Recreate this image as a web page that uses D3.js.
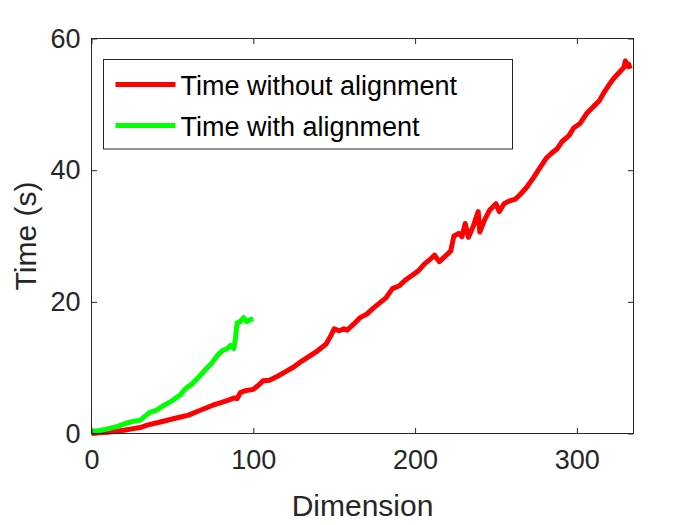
<!DOCTYPE html>
<html>
<head>
<meta charset="utf-8">
<script src="https://cdn.jsdelivr.net/npm/d3@7"></script>
<style>
  body { margin: 0; background: #fff; }
  text { font-family: "Liberation Sans", Arial, sans-serif; }
</style>
</head>
<body>
<div id="chart"></div>
<script>
// Run time against dimension

const redDims = [0, 5, 10, 15, 20, 25, 30, 35, 40, 45, 50, 55, 60, 65, 70, 75, 80, 85, 88, 90,
  92, 95, 100, 103, 106, 110, 115, 120, 125, 130, 135, 140, 145, 148, 150, 153, 156, 158, 162, 166,
  170, 174, 178, 182, 186, 190, 194, 198, 202, 206, 210, 212, 215, 218, 222, 224, 227, 229, 231, 233,
  236, 239, 240, 243, 246, 250, 252, 255, 258, 262, 265, 269, 273, 277, 281, 284, 288, 291, 295, 298,
  302, 306, 310, 314, 317, 320, 323, 326, 329, 330, 331, 332, 333];
const redTimes = [0, 0.1, 0.2, 0.35, 0.5, 0.7, 0.9, 1.3, 1.6, 1.9, 2.2, 2.5, 2.8, 3.3, 3.8, 4.3, 4.7, 5.1, 5.4, 5.3,
  6.2, 6.5, 6.7, 7.3, 8.0, 8.1, 8.7, 9.4, 10.1, 11.0, 11.8, 12.6, 13.6, 14.9, 15.9, 15.6, 15.9, 15.7, 16.6, 17.6,
  18.1, 19.0, 19.8, 20.6, 22.0, 22.4, 23.3, 24.0, 24.7, 25.8, 26.6, 27.1, 26.1, 26.8, 27.7, 30.0, 30.4, 29.9, 31.9, 29.8,
  31.5, 33.7, 30.6, 32.5, 33.9, 34.9, 33.7, 34.9, 35.3, 35.6, 36.3, 37.4, 38.8, 40.3, 41.8, 42.5, 43.3, 44.4, 45.2, 46.4,
  47.1, 48.6, 49.6, 50.6, 51.9, 53.0, 54.0, 54.8, 55.6, 56.6, 55.8, 56.1, 55.4];

const greenDims = [0, 5, 10, 15, 18, 22, 25, 30, 33, 36, 40, 45, 50, 55, 58, 62, 66, 70, 74, 78,
  81, 84, 86, 88, 89, 90, 92, 94, 96, 98, 100];
const greenTimes = [0.3, 0.45, 0.7, 1.0, 1.25, 1.6, 1.8, 2.0, 2.6, 3.2, 3.5, 4.3, 5.0, 5.9, 6.8, 7.5, 8.5, 9.6, 10.6, 11.9,
  12.6, 12.9, 13.4, 12.9, 14.5, 16.8, 17.0, 17.6, 17.0, 17.3, 17.4];

const xTicks = [0, 100, 200, 300];
const yTicks = [0, 20, 40, 60];
const seriesNames = ["Time without alignment", "Time with alignment"];
const seriesColors = ["#ff0000", "#00ff00"];

const width = 700;
const height = 525;
const margin = { top: 38.5, right: 66.5, bottom: 91.5, left: 91.5 };
const plotW = width - margin.left - margin.right;
const plotH = height - margin.top - margin.bottom;
const axisColor = "#262626";

const svg = d3.select("#chart")
  .append("svg")
  .attr("width", width)
  .attr("height", height);

svg.append("rect").attr("width", width).attr("height", height).attr("fill", "#fff");

const g = svg.append("g")
  .attr("transform", `translate(${margin.left},${margin.top})`);

const x = d3.scaleLinear().domain([0, 335]).range([0, plotW]);
const y = d3.scaleLinear().domain([0, 60]).range([plotH, 0]);

// lines
const red = redDims.map((d, i) => [d, redTimes[i]]);
const green = greenDims.map((d, i) => [d, greenTimes[i]]);
const line = d3.line().x(d => x(d[0])).y(d => y(d[1]));

g.append("path").datum(red)
  .attr("d", line)
  .attr("fill", "none")
  .attr("stroke", seriesColors[0])
  .attr("stroke-width", 5)
  .attr("stroke-linejoin", "round");

g.append("path").datum(green)
  .attr("d", line)
  .attr("fill", "none")
  .attr("stroke", seriesColors[1])
  .attr("stroke-width", 5)
  .attr("stroke-linejoin", "round");

// axes (ticks inside, box on)
const tickLen = 5.5;
function styleAxis(sel) {
  sel.selectAll("path, line").attr("stroke", axisColor).attr("stroke-width", 1);
  sel.selectAll("text")
    .attr("fill", axisColor)
    .style("font-size", "27px");
}

g.append("g")
  .attr("transform", `translate(0,${plotH})`)
  .call(d3.axisBottom(x).tickValues(xTicks).tickSizeInner(-tickLen).tickSizeOuter(0).tickPadding(16))
  .call(styleAxis)
  .call(a => a.selectAll("text").attr("dy", "0.71em"));

g.append("g")
  .call(d3.axisTop(x).tickValues(xTicks).tickSizeInner(-tickLen).tickSizeOuter(0).tickFormat(""))
  .call(styleAxis);

g.append("g")
  .call(d3.axisLeft(y).tickValues(yTicks).tickSizeInner(-tickLen).tickSizeOuter(0).tickPadding(11))
  .call(styleAxis);

g.append("g")
  .attr("transform", `translate(${plotW},0)`)
  .call(d3.axisRight(y).tickValues(yTicks).tickSizeInner(-tickLen).tickSizeOuter(0).tickFormat(""))
  .call(styleAxis);

g.selectAll(".domain").remove();
g.append("rect")
  .attr("width", plotW)
  .attr("height", plotH)
  .attr("fill", "none")
  .attr("stroke", axisColor)
  .attr("stroke-width", 1);

// axis titles
svg.append("text")
  .attr("x", margin.left + plotW / 2)
  .attr("y", 516)
  .attr("text-anchor", "middle")
  .attr("fill", axisColor)
  .style("font-size", "30px")
  .text("Dimension");

svg.append("text")
  .attr("transform", `translate(36,${margin.top + plotH / 2}) rotate(-90)`)
  .attr("text-anchor", "middle")
  .attr("fill", axisColor)
  .style("font-size", "30px")
  .text("Time (s)");

// legend
const legend = svg.append("g").attr("transform", "translate(103.5,59.5)");
legend.append("rect")
  .attr("width", 409)
  .attr("height", 89.5)
  .attr("fill", "#fff")
  .attr("stroke", axisColor)
  .attr("stroke-width", 1);

seriesNames.forEach((name, i) => {
  const cy = 25 + i * 41;
  legend.append("line")
    .attr("x1", 12).attr("x2", 72)
    .attr("y1", cy).attr("y2", cy)
    .attr("stroke", seriesColors[i])
    .attr("stroke-width", 5);
  legend.append("text")
    .attr("x", 77)
    .attr("y", cy + 10)
    .attr("fill", "#000")
    .style("font-size", "27px")
    .text(name);
});
</script>
</body>
</html>
